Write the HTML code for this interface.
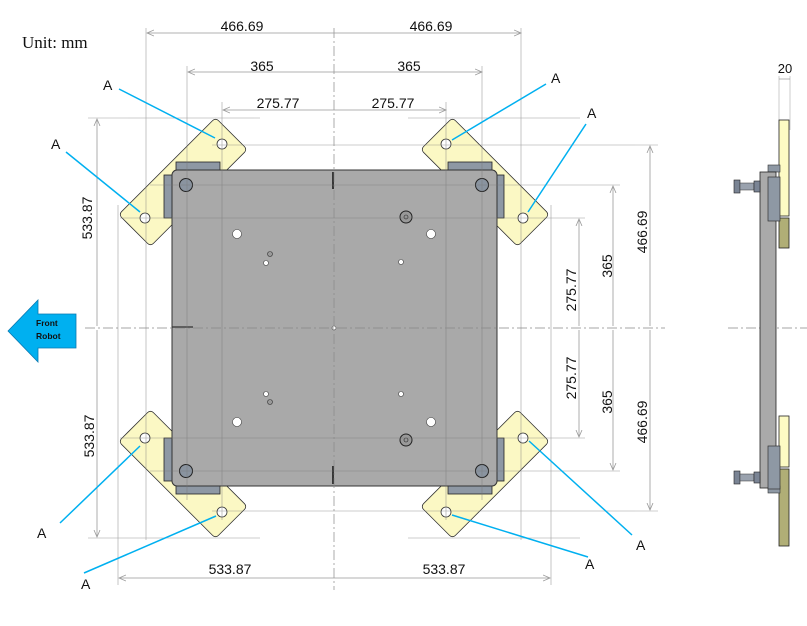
<!DOCTYPE html>
<html><head><style>
html,body{margin:0;padding:0;background:#fff;width:807px;height:626px;overflow:hidden}
svg{display:block}
text{font-family:"Liberation Sans",sans-serif;font-size:14px;fill:#111}
</style></head><body>
<svg width="807" height="626" viewBox="0 0 807 626" xmlns="http://www.w3.org/2000/svg">
<defs>
<marker id="ar" markerWidth="8" markerHeight="8" refX="7" refY="4" orient="auto" markerUnits="userSpaceOnUse">
<path d="M0,1 L7,4 L0,7" fill="none" stroke="#999" stroke-width="0.8"/></marker>
<g id="q">
  <rect x="114.5" y="159.5" width="137" height="45" rx="4" transform="rotate(-45 183 182)" fill="#fbf8c4" stroke="#333" stroke-width="0.8"/>
  <circle cx="222" cy="144" r="5" fill="#fff" stroke="#333" stroke-width="0.8"/>
  <circle cx="145" cy="218" r="5" fill="#fff" stroke="#333" stroke-width="0.8"/>
  <rect x="176" y="162" width="44" height="10" fill="#8e98a4" stroke="#222" stroke-width="0.8"/>
  <rect x="164" y="175" width="10" height="43" fill="#8e98a4" stroke="#222" stroke-width="0.8"/>
</g>
<g id="h">
  <circle cx="186" cy="185" r="6.5" fill="#8a94a0" stroke="#222" stroke-width="1"/>
  <circle cx="237" cy="234" r="4.5" fill="#fff" stroke="#444" stroke-width="0.6"/>
</g>
</defs>
<text x="22" y="48" style="font-family:'Liberation Serif',serif;font-size:17px">Unit: mm</text>

<use href="#q"/>
<use href="#q" transform="translate(668,0) scale(-1,1)"/>
<use href="#q" transform="translate(0,656) scale(1,-1)"/>
<use href="#q" transform="translate(668,656) scale(-1,-1)"/>

<rect x="172" y="170" width="325" height="316" rx="5" fill="#a9a9a9" stroke="#333" stroke-width="1"/>
<line x1="333" y1="172" x2="333" y2="189" stroke="#111" stroke-width="1.5"/>
<line x1="333" y1="466" x2="333" y2="484" stroke="#111" stroke-width="1.5"/>
<line x1="172" y1="327" x2="193" y2="327" stroke="#333" stroke-width="1.2"/>
<use href="#h"/>
<use href="#h" transform="translate(668,0) scale(-1,1)"/>
<use href="#h" transform="translate(0,656) scale(1,-1)"/>
<use href="#h" transform="translate(668,656) scale(-1,-1)"/>
<circle cx="270" cy="254" r="2.5" fill="#999" stroke="#333" stroke-width="0.6"/>
<circle cx="266" cy="263" r="2.5" fill="#fff" stroke="#444" stroke-width="0.6"/>
<circle cx="266" cy="394" r="2.5" fill="#fff" stroke="#444" stroke-width="0.6"/>
<circle cx="270" cy="402" r="2.5" fill="#999" stroke="#333" stroke-width="0.6"/>
<circle cx="406" cy="217" r="6" fill="#999" stroke="#222" stroke-width="1"/><circle cx="406" cy="217" r="2" fill="none" stroke="#222" stroke-width="0.6"/>
<circle cx="406" cy="440" r="6" fill="#999" stroke="#222" stroke-width="1"/><circle cx="406" cy="440" r="2" fill="none" stroke="#222" stroke-width="0.6"/>
<circle cx="401" cy="262" r="2.5" fill="#fff" stroke="#444" stroke-width="0.6"/>
<circle cx="401" cy="394" r="2.5" fill="#fff" stroke="#444" stroke-width="0.6"/>
<circle cx="334" cy="328" r="2" fill="#fff" stroke="#444" stroke-width="0.6"/>

<g stroke="#777" stroke-width="0.6" opacity="0.7" fill="none">
<line x1="88" y1="118" x2="260" y2="118"/><line x1="408" y1="118" x2="580" y2="118"/>
<line x1="88" y1="538" x2="260" y2="538"/><line x1="408" y1="538" x2="580" y2="538"/>
<line x1="212" y1="145" x2="658" y2="145"/><line x1="212" y1="511" x2="658" y2="511"/>
<line x1="150" y1="185" x2="620" y2="185"/><line x1="150" y1="471" x2="620" y2="471"/>
<line x1="120" y1="218" x2="585" y2="218"/><line x1="120" y1="438" x2="585" y2="438"/>
<line x1="146" y1="28" x2="146" y2="540"/><line x1="521" y1="28" x2="521" y2="540"/>
<line x1="187" y1="66" x2="187" y2="500"/><line x1="482" y1="66" x2="482" y2="500"/>
<line x1="222" y1="102" x2="222" y2="520"/><line x1="446" y1="102" x2="446" y2="520"/>
<line x1="118" y1="205" x2="118" y2="585"/><line x1="551" y1="205" x2="551" y2="585"/>
</g>
<g stroke="#888" stroke-width="0.7" stroke-dasharray="10,3,2,3" fill="none">
<line x1="334" y1="28" x2="334" y2="590"/>
<line x1="85" y1="328" x2="665" y2="328"/>
<line x1="728" y1="328" x2="807" y2="328"/>
</g>

<g stroke="#999" stroke-width="0.8" fill="none" marker-end="url(#ar)">
<line x1="334" y1="33" x2="147" y2="33"/><line x1="334" y1="33" x2="521" y2="33"/>
<line x1="334" y1="72" x2="188" y2="72"/><line x1="334" y1="72" x2="482" y2="72"/>
<line x1="334" y1="110" x2="223" y2="110"/><line x1="334" y1="110" x2="446" y2="110"/>
<line x1="334" y1="578" x2="119" y2="578"/><line x1="334" y1="578" x2="550" y2="578"/>
<line x1="97" y1="326" x2="97" y2="119"/><line x1="97" y1="330" x2="97" y2="537"/>
<line x1="579" y1="326" x2="579" y2="219"/><line x1="579" y1="330" x2="579" y2="437"/>
<line x1="613" y1="326" x2="613" y2="186"/><line x1="613" y1="330" x2="613" y2="470"/>
<line x1="650" y1="326" x2="650" y2="146"/><line x1="650" y1="330" x2="650" y2="510"/>
</g>
<text x="242" y="31" text-anchor="middle">466.69</text><text x="431" y="31" text-anchor="middle">466.69</text>
<text x="262" y="71" text-anchor="middle">365</text><text x="409" y="71" text-anchor="middle">365</text>
<text x="278" y="108" text-anchor="middle">275.77</text><text x="393" y="108" text-anchor="middle">275.77</text>
<text x="230" y="574" text-anchor="middle">533.87</text><text x="444" y="574" text-anchor="middle">533.87</text>
<text transform="translate(92,218) rotate(-90)" text-anchor="middle">533.87</text>
<text transform="translate(94,436) rotate(-90)" text-anchor="middle">533.87</text>
<text transform="translate(576,290) rotate(-90)" text-anchor="middle">275.77</text>
<text transform="translate(576,378) rotate(-90)" text-anchor="middle">275.77</text>
<text transform="translate(612,266) rotate(-90)" text-anchor="middle">365</text>
<text transform="translate(612,402) rotate(-90)" text-anchor="middle">365</text>
<text transform="translate(647,232) rotate(-90)" text-anchor="middle">466.69</text>
<text transform="translate(647,422) rotate(-90)" text-anchor="middle">466.69</text>

<g stroke="#00b0f0" stroke-width="1.5">
<line x1="119" y1="89" x2="215" y2="138"/>
<line x1="66" y1="152" x2="140" y2="212"/>
<line x1="546" y1="84" x2="452" y2="140"/>
<line x1="586" y1="124" x2="528" y2="212"/>
<line x1="60" y1="523" x2="140" y2="446"/>
<line x1="84" y1="573" x2="216" y2="516"/>
<line x1="632" y1="535" x2="529" y2="441"/>
<line x1="588" y1="557" x2="452" y2="515"/>
</g>
<g style="font-size:15px">
<text x="103" y="90">A</text><text x="51" y="149">A</text>
<text x="551" y="83">A</text><text x="587" y="118">A</text>
<text x="37" y="538">A</text><text x="81" y="589">A</text>
<text x="636" y="550">A</text><text x="585" y="569">A</text>
</g>

<polygon points="8,331 38,300 38,314 76,314 76,348 38,348 38,362" fill="#00b0f0" stroke="#0a78b0" stroke-width="0.8"/>
<text x="36" y="326" style="font-size:8.5px;font-weight:bold">Front</text>
<text x="36" y="339" style="font-size:8.5px;font-weight:bold">Robot</text>

<line x1="779" y1="76" x2="779" y2="130" stroke="#aaa" stroke-width="0.6"/>
<line x1="790" y1="76" x2="790" y2="130" stroke="#aaa" stroke-width="0.6"/>
<line x1="779" y1="79" x2="790" y2="79" stroke="#999" stroke-width="0.7"/>
<text x="785" y="73" text-anchor="middle" style="font-size:13px">20</text>
<rect x="779" y="120" width="10" height="96" fill="#fdfbc4" stroke="#222" stroke-width="0.8"/>
<rect x="779" y="218" width="10" height="30" fill="#b0ae76" stroke="#222" stroke-width="0.8"/>
<rect x="779" y="416" width="10" height="51" fill="#fdfbc4" stroke="#222" stroke-width="0.8"/>
<rect x="779" y="469" width="10" height="77" fill="#b0ae76" stroke="#222" stroke-width="0.8"/>
<rect x="768" y="165" width="12" height="7" fill="#8e98a4" stroke="#333" stroke-width="0.6"/>
<rect x="768" y="486" width="12" height="7" fill="#8e98a4" stroke="#333" stroke-width="0.6"/>
<rect x="760" y="172" width="16" height="316" fill="#aaa" stroke="#222" stroke-width="0.8"/>
<rect x="768" y="177" width="12" height="44" fill="#8e98a4" stroke="#333" stroke-width="0.7"/>
<rect x="768" y="446" width="12" height="43" fill="#8e98a4" stroke="#333" stroke-width="0.7"/>
<rect x="734" y="180" width="6" height="13" fill="#7a8494" stroke="#222" stroke-width="0.6"/>
<rect x="740" y="183" width="14" height="7" fill="#9aa2ae" stroke="#333" stroke-width="0.5"/>
<rect x="754" y="181" width="6" height="11" fill="#7a8494" stroke="#222" stroke-width="0.6"/>
<rect x="734" y="471" width="6" height="13" fill="#7a8494" stroke="#222" stroke-width="0.6"/>
<rect x="740" y="474" width="14" height="7" fill="#9aa2ae" stroke="#333" stroke-width="0.5"/>
<rect x="754" y="472" width="6" height="11" fill="#7a8494" stroke="#222" stroke-width="0.6"/>
</svg>
</body></html>
